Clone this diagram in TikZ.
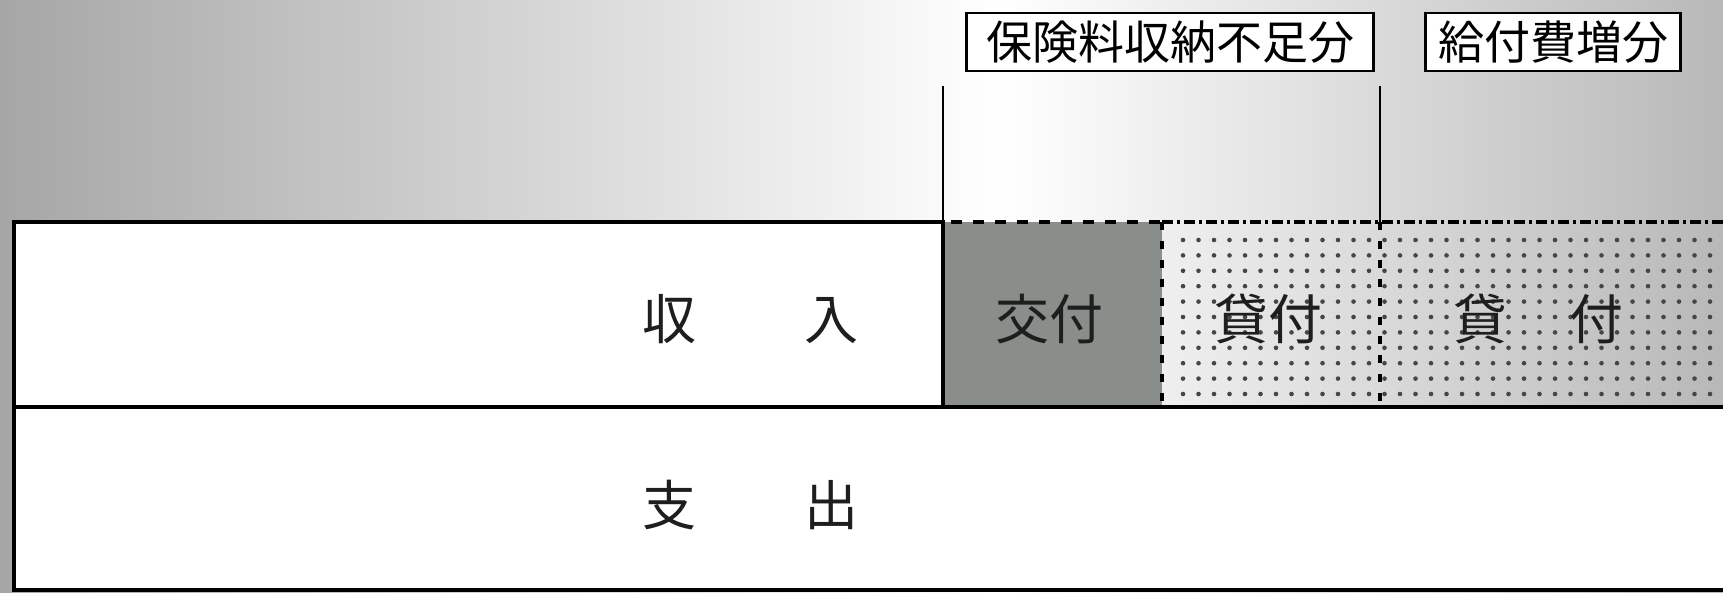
\documentclass[tikz,border=0pt]{standalone}
\usepackage{fontspec}
\newfontfamily\jp{Noto Sans CJK JP}
\definecolor{bgL}{RGB}{166,166,166}
\definecolor{bgR}{RGB}{184,184,184}
\definecolor{grayfill}{RGB}{138,142,138}
\definecolor{dotc}{RGB}{70,70,70}
\definecolor{txt}{RGB}{30,30,30}
\tikzset{
  bigtxt/.style={font=\jp\fontsize{54}{60}\selectfont, text=txt, inner sep=0pt, anchor=center},
  labelbox/.style={draw=black, line width=2.8pt, fill=white, inner sep=0pt, minimum height=58pt,
     font=\jp\fontsize{46}{52}\selectfont, text=black},
  thickline/.style={line width=4.5pt, black},
  marker/.style={line width=2.6pt, black},
}
\begin{document}
\begin{tikzpicture}[x=1pt, y=-1pt]
\useasboundingbox (0,0) rectangle (1723,593);
% background gradient
\shade[left color=bgL, right color=white] (0,0) rectangle (1000,593);
\shade[left color=white, right color=bgR] (1000,0) rectangle (1723,593);
% coordinates
\coordinate (tl) at (14,222);
\coordinate (mid) at (943,222);
\coordinate (b1) at (1162,222);
\coordinate (b2) at (1380,222);
\coordinate (tr) at (1725,222);
\coordinate (ml) at (14,407);
\coordinate (mm) at (943,407);
\coordinate (mb1) at (1162,407);
\coordinate (mb2) at (1380,407);
\coordinate (mr) at (1725,407);
\coordinate (bl) at (14,590);
\coordinate (br) at (1725,590);
\coordinate (m1top) at (943,86);
\coordinate (m2top) at (1380,86);
% fills
\fill[white] (ml) rectangle (br);
\fill[white] (tl) rectangle (mm);
\fill[grayfill] (mid) rectangle (mb1);
% dots
\foreach \i in {0,...,34}{
  \foreach \j in {0,...,10}{
    \fill[dotc] ({1183+15.5*\i},{240+15.4*\j}) circle[radius=2.3pt];
  }
}
% lines
\draw[thickline] (mm) -- (ml) -- (tl) -- (mid) -- (mm);
\draw[thickline] (ml) -- (mr);
\draw[thickline] (ml) -- (bl) -- (br);
\draw[line width=4.5pt, dash pattern=on 11pt off 11pt] ([xshift=8pt]mid) -- (b1);
\draw[line width=4.5pt, dash pattern=on 11pt off 4pt on 3pt off 4pt] (b1) -- (tr);
\draw[line width=4pt, dash pattern=on 8pt off 11pt] (b1) -- (mb1);
\draw[line width=4pt, dash pattern=on 8pt off 11pt] (b2) -- (mb2);
\draw[marker] (m1top) -- (mid);
\draw[marker] (m2top) -- (b2);
% labels
\node[labelbox, minimum width=407pt] (lab1) at (1170,42) {保険料収納不足分};
\node[labelbox, minimum width=255pt] (lab2) at (1553,42) {給付費増分};
% texts
\node[bigtxt] (income) at (750,319) {収\hspace{108pt}入};
\node[bigtxt] (outgo) at (750,505) {支\hspace{108pt}出};
\node[bigtxt] (kofu) at (1049,319) {交付};
\node[bigtxt] (taifu1) at (1268,319) {貸付};
\node[bigtxt] (taifu2) at (1538,319) {貸\hspace{62pt}付};
\end{tikzpicture}
\end{document}
